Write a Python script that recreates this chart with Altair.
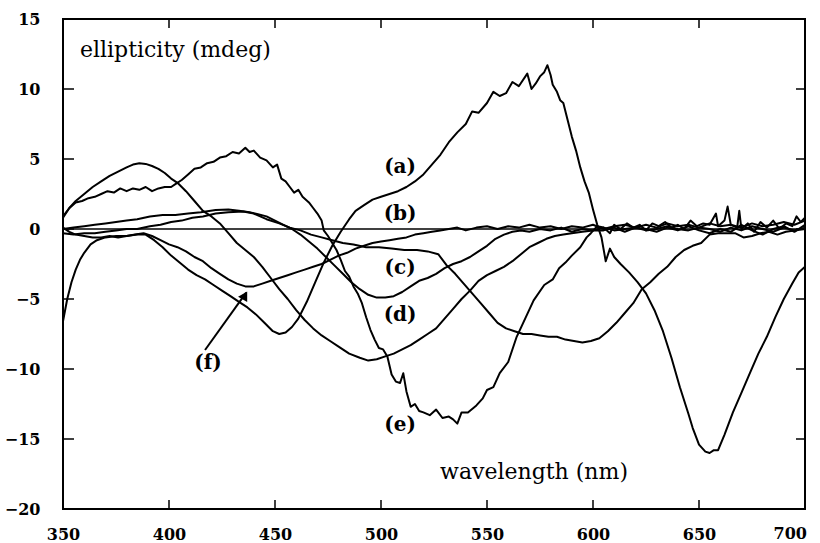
import altair as alt
import pandas as pd

# ---------------- data ----------------
a_wl = [350, 352, 354, 356, 358, 360, 363, 366, 370, 375, 380, 385, 389, 393, 397, 401, 405, 409, 413, 417,
        421, 425, 429, 433, 437, 441, 445, 449, 452, 455, 458, 461, 465, 469, 473, 477, 481, 485, 488, 492,
        496, 500, 504, 508, 512, 516, 520, 524, 528, 532, 536, 540, 543, 546, 550, 553, 556, 559, 562, 565,
        569, 571, 573, 575, 577, 578.5, 580, 581, 583, 584.5, 586, 588, 590, 592, 594, 596, 598, 600, 602, 604,
        606, 608, 610, 613, 617, 621, 625, 629, 633, 637, 641, 645, 647, 650, 653, 655, 657, 659, 662, 666,
        670, 674, 678, 682, 686, 690, 694, 697, 700]
a_val = [-6.6, -5.0, -3.8, -2.9, -2.2, -1.7, -1.1, -0.8, -0.6, -0.5, -0.5, -0.4, -0.4, -0.8, -1.3, -1.9, -2.4, -2.9, -3.3, -3.6,
         -4.0, -4.4, -4.8, -5.2, -5.6, -6.1, -6.7, -7.3, -7.5, -7.4, -7.0, -6.4, -5.2, -3.8, -2.4, -1.2, -0.2, 0.7, 1.3, 1.7,
         2.1, 2.3, 2.5, 2.7, 3.0, 3.4, 3.9, 4.6, 5.3, 6.2, 6.9, 7.5, 8.4, 8.3, 9.0, 9.8, 9.5, 9.7, 10.5, 10.2,
         11.1, 10.0, 10.4, 10.9, 11.2, 11.7, 11.0, 10.3, 9.8, 9.2, 9.0, 7.8, 6.6, 5.6, 4.4, 3.4, 2.6, 1.4, 0.3, -0.6,
         -2.3, -1.4, -2.0, -2.5, -3.1, -3.8, -4.6, -5.8, -7.3, -9.2, -11.3, -13.2, -14.2, -15.4, -15.9, -16.0, -15.8, -15.8, -14.7, -13.1,
         -11.7, -10.3, -8.9, -7.7, -6.3, -5.0, -3.9, -3.1, -2.7]

b_wl = [350, 355, 360, 365, 370, 375, 380, 385, 391, 396, 401, 406, 411, 416, 422, 428, 435, 440, 446, 452,
        457, 462, 467, 472, 477, 482, 487, 493, 499, 505, 511, 517, 522, 527, 531, 535, 539, 543, 547, 551,
        555, 559, 563, 567, 571, 575, 579, 583, 587, 591, 595, 599, 603, 607, 611, 615, 619, 623, 627, 631,
        635, 639, 643, 647, 651, 655, 659, 663, 667, 671, 675, 679, 683, 687, 691, 695, 700]
b_val = [-0.3, -0.4, -0.3, -0.3, -0.2, -0.1, 0.0, 0.0, 0.2, 0.3, 0.5, 0.6, 0.8, 0.9, 1.1, 1.2, 1.25, 1.1, 0.7, 0.4,
         0.1, -0.1, -0.4, -0.6, -0.8, -1.0, -1.1, -1.3, -1.3, -1.4, -1.5, -1.5, -1.6, -1.8, -2.6, -3.2, -3.9, -4.6, -5.3, -6.0,
         -6.7, -7.1, -7.3, -7.5, -7.5, -7.6, -7.7, -7.7, -7.9, -8.0, -8.1, -8.0, -7.8, -7.3, -6.7, -6.0, -5.3, -4.3, -3.8, -3.2,
         -2.7, -2.0, -1.5, -1.2, -1.0, -0.4, -0.3, -0.3, -0.3, -0.6, -0.5, -0.3, -0.2, -0.4, -0.2, -0.1, 0.1]

c_wl = [350, 355, 360, 365, 370, 375, 380, 385, 391, 397, 403, 409, 415, 422, 428, 433, 438, 442, 446, 450,
        454, 458, 462, 466, 470, 474, 478, 482, 486, 490, 494, 498, 502, 506, 510, 514, 518, 522, 526, 530,
        534, 538, 542, 546, 550, 554, 558, 562, 566, 570, 575, 580, 585, 590, 595, 600, 605, 610, 615, 620,
        625, 630, 635, 640, 645, 650, 655, 660, 665, 670, 675, 680, 685, 690, 695, 700]
c_val = [0.0, 0.1, 0.2, 0.3, 0.4, 0.5, 0.6, 0.7, 0.9, 1.0, 1.0, 1.1, 1.2, 1.35, 1.4, 1.3, 1.2, 1.05, 0.9, 0.6,
         0.3, 0.0, -0.4, -0.9, -1.4, -2.0, -2.6, -3.2, -3.8, -4.3, -4.7, -4.9, -4.9, -4.8, -4.5, -4.1, -3.7, -3.5, -3.2, -2.8,
         -2.5, -2.3, -2.0, -1.6, -1.2, -0.7, -0.4, -0.2, -0.1, -0.2, 0.0, -0.1, 0.1, -0.2, 0.0, -0.1, 0.1, -0.1, 0.0, 0.1,
         -0.1, 0.0, 0.2, 0.0, -0.1, 0.1, 0.0, -0.2, 0.1, -0.1, 0.2, 0.0, -0.2, 0.1, -0.1, 0.0]

d_wl = [350, 353, 356, 360, 364, 368, 372, 376, 380, 383, 386, 389, 392, 395, 398, 401, 404, 408, 412, 416,
        420, 424, 428, 432, 436, 440, 444, 448, 452, 456, 460, 464, 468, 472, 476, 480, 485, 490, 494, 498,
        502, 506, 510, 514, 518, 522, 526, 530, 534, 538, 542, 546, 550, 554, 558, 562, 566, 570, 574, 578,
        582, 586, 590, 595, 600, 605, 610, 615, 620, 625, 630, 635, 640, 645, 650, 655, 660, 665, 670, 675,
        680, 685, 690, 695, 700]
d_val = [0.9, 1.5, 2.0, 2.5, 3.0, 3.4, 3.8, 4.1, 4.4, 4.6, 4.7, 4.65, 4.5, 4.3, 4.0, 3.6, 3.3, 2.7, 2.0, 1.3,
         0.9, 0.4, -0.3, -1.0, -1.5, -2.0, -2.7, -3.5, -4.3, -5.0, -5.8, -6.5, -7.1, -7.6, -8.0, -8.4, -8.9, -9.2, -9.4, -9.3,
         -9.1, -8.9, -8.6, -8.3, -7.9, -7.5, -7.1, -6.4, -5.7, -5.0, -4.4, -3.7, -3.3, -3.0, -2.7, -2.3, -1.8, -1.3, -1.0, -0.7,
         -0.5, -0.4, -0.3, -0.2, -0.1, -0.1, 0.1, -0.2, 0.1, 0.0, -0.2, 0.1, -0.1, 0.2, -0.1, -0.3, 0.0, -0.2, 0.3, -0.1,
         -0.4, 0.0, 0.2, -0.2, 0.3]

e_wl = [350, 353, 356, 359, 362, 365, 368, 371, 374, 377, 380, 383, 386, 389, 392, 395, 398, 401, 403, 406,
        409, 412, 415, 418, 421, 424, 427, 430, 433, 436, 438, 440, 443, 446, 449, 451, 453, 455, 457, 459,
        461, 463, 466, 468, 470, 472, 473, 475, 477, 479, 481, 483, 485, 487, 489, 491, 493, 495, 497, 499,
        501, 503, 505, 507, 509, 510.5, 512, 514, 516, 518, 520, 523, 526, 529, 532, 534, 536, 538, 541, 545,
        548, 550, 553, 556, 560, 564, 568, 572, 577, 581, 584, 587, 590, 594, 597, 599, 602, 605, 608, 610,
        613, 616, 619, 622, 625, 628, 631, 634, 637, 640, 643, 646, 649, 652, 655, 658, 659, 662, 663.5, 665,
        668, 669, 670, 673, 676, 679, 682, 685, 688, 691, 694, 696, 698, 700]
e_val = [0.8, 1.5, 1.9, 2.0, 2.2, 2.3, 2.5, 2.7, 2.6, 2.9, 2.7, 2.9, 2.8, 3.0, 2.7, 2.9, 3.0, 3.0, 3.2, 3.5,
         3.9, 4.3, 4.4, 4.7, 4.8, 5.1, 5.2, 5.5, 5.4, 5.8, 5.5, 5.6, 5.1, 4.9, 4.4, 4.6, 3.6, 3.4, 3.0, 2.6,
         2.8, 2.3, 1.9, 1.5, 1.1, 0.6, -0.1, -0.5, -1.0, -1.5, -2.2, -3.0, -3.4, -4.1, -4.6, -5.3, -6.3, -7.2, -7.9, -8.5,
         -8.6, -9.1, -10.4, -10.9, -11.0, -10.3, -11.6, -12.7, -12.5, -13.0, -13.1, -13.3, -12.9, -13.5, -13.4, -13.6, -13.9, -13.1, -13.1, -12.6,
         -12.1, -11.5, -11.3, -10.3, -9.5, -7.7, -6.4, -5.1, -4.0, -3.6, -2.8, -2.4, -1.9, -1.3, -0.6, -0.3, 0.2, 0.1, -0.3, 0.3,
         0.0, 0.4, 0.1, 0.3, -0.1, 0.4, 0.2, 0.5, 0.1, 0.3, 0.0, 0.6, 0.2, 0.4, 0.3, 1.1, 0.2, 0.6, 1.6, 0.3,
         0.1, 1.3, 0.0, 0.4, -0.2, 0.5, 0.1, 0.6, 0.0, 0.4, 0.2, 0.9, 0.5, 0.8]

f_wl = [350, 353, 356, 360, 364, 368, 372, 376, 380, 384, 388, 392, 396, 400, 404, 408, 412, 416, 420, 424,
        428, 432, 436, 440, 444, 448, 452, 456, 460, 464, 468, 472, 476, 480, 484, 488, 492, 496, 500, 504,
        508, 512, 516, 520, 524, 528, 532, 536, 540, 545, 550, 555, 560, 565, 570, 575, 580, 585, 590, 595,
        600, 605, 610, 615, 620, 625, 630, 635, 640, 645, 650, 655, 660, 665, 670, 675, 680, 685, 690, 695, 700]
f_val = [0.1, -0.2, -0.4, -0.5, -0.6, -0.6, -0.5, -0.6, -0.5, -0.4, -0.3, -0.5, -0.8, -1.1, -1.3, -1.6, -2.0, -2.3, -2.8, -3.2,
         -3.6, -3.9, -4.1, -4.1, -3.9, -3.7, -3.5, -3.3, -3.1, -2.9, -2.7, -2.5, -2.2, -1.9, -1.7, -1.4, -1.2, -1.0, -0.9, -0.8,
         -0.7, -0.6, -0.4, -0.3, -0.2, -0.1, 0.0, 0.1, -0.1, 0.1, 0.2, 0.0, 0.2, 0.1, 0.3, 0.1, 0.2, 0.0, 0.2, 0.1,
         0.3, 0.0, 0.2, 0.3, 0.1, 0.3, 0.1, 0.4, 0.2, 0.3, 0.1, 0.4, 0.2, 0.3, 0.1, 0.4, 0.2, 0.3, 0.5, 0.3, 0.6]

x_tick_values = [350, 400, 450, 500, 550, 600, 650, 700]
y_tick_values = [-20, -15, -10, -5, 0, 5, 10, 15]

label_names = ["(a)", "(b)", "(c)", "(d)", "(e)", "(f)"]
label_wl = [509, 509, 509, 509, 509, 418.4]
label_val = [4.43, 1.1, -2.82, -6.14, -14.0, -9.57]

arrow_tail = [417.0, -8.64]
arrow_tip = [436.4, -4.55]
arrow_head = [435.8, -4.75]

y_title = "ellipticity (mdeg)"
y_title_pos = [358.0, 12.29]
x_title = "wavelength (nm)"
x_title_pos = [616.5, -17.86]

# ---------------- build tables ----------------
series = {"a": (a_wl, a_val), "b": (b_wl, b_val), "c": (c_wl, c_val),
          "d": (d_wl, d_val), "e": (e_wl, e_val), "f": (f_wl, f_val)}
rows = []
for name, (ws, vs) in series.items():
    for i, (w, v) in enumerate(zip(ws, vs)):
        rows.append({"curve": name, "wl": w, "val": v, "i": i})
df = pd.DataFrame(rows)

W, H = 742, 490
FONT = "DejaVu Serif"
xs = alt.Scale(domain=[350, 700], nice=False, zero=False)
ys = alt.Scale(domain=[-20, 15], nice=False, zero=False)

x_axis = alt.Axis(values=x_tick_values[:-1], title=None, grid=False, ticks=False,
                  domain=False, labelFlush=False, labelFont=FONT, labelFontWeight="bold",
                  labelFontSize=16, labelPadding=17, labelColor="black", format="d")
y_axis = alt.Axis(values=y_tick_values, title=None, grid=False, ticks=False,
                  domain=False, labelFont=FONT, labelFontWeight="bold",
                  labelFontSize=16, labelPadding=23, labelColor="black", format="d")


def X(field):
    return alt.X(field, scale=xs, axis=x_axis, title=None)


def Y(field):
    return alt.Y(field, scale=ys, axis=y_axis, title=None)


lines = alt.Chart(df).mark_line(color="black", strokeWidth=2.0, strokeJoin="round").encode(
    x=X("wl:Q"), y=Y("val:Q"), detail="curve:N", order="i:Q")

xt = pd.DataFrame({"t": x_tick_values[1:-1]})
yt = pd.DataFrame({"t": y_tick_values[1:-1]})
bottom_ticks = alt.Chart(xt).mark_rule(color="black", strokeWidth=1.5).encode(
    x=X("t:Q"), y=alt.value(H), y2=alt.value(H - 9))
top_ticks = alt.Chart(xt).mark_rule(color="black", strokeWidth=1.5).encode(
    x=X("t:Q"), y=alt.value(0), y2=alt.value(9))
left_ticks = alt.Chart(yt).mark_rule(color="black", strokeWidth=1.5).encode(
    y=Y("t:Q"), x=alt.value(0), x2=alt.value(11))
right_ticks = alt.Chart(yt).mark_rule(color="black", strokeWidth=1.5).encode(
    y=Y("t:Q"), x=alt.value(W), x2=alt.value(W - 9))

last_lab = alt.Chart(pd.DataFrame({"t": [x_tick_values[-1]], "lab": [str(x_tick_values[-1])]})).mark_text(
    align="right", baseline="top", dy=17, dx=2, font=FONT, fontWeight="bold", fontSize=16, color="black"
).encode(x=X("t:Q"), y=alt.value(H), text="lab:N")

zero_line = alt.Chart(pd.DataFrame({"z": [0]})).mark_rule(color="black", strokeWidth=1.6).encode(
    y=Y("z:Q"))

labels = alt.Chart(pd.DataFrame({"lab": label_names, "wl": label_wl, "val": label_val})).mark_text(
    font=FONT, fontWeight="bold", fontSize=20, color="black", baseline="middle", align="center"
).encode(x=X("wl:Q"), y=Y("val:Q"), text="lab:N")

arrow = alt.Chart(pd.DataFrame({"x": [arrow_tail[0]], "y": [arrow_tail[1]],
                                "x2": [arrow_tip[0]], "y2": [arrow_tip[1]]})).mark_rule(
    color="black", strokeWidth=2).encode(x=X("x:Q"), y=Y("y:Q"), x2="x2:Q", y2="y2:Q")
head = alt.Chart(pd.DataFrame({"x": [arrow_head[0]], "y": [arrow_head[1]]})).mark_point(
    shape="triangle-up", filled=True, color="black", opacity=1, size=110, angle=30).encode(
    x=X("x:Q"), y=Y("y:Q"))

ytitle = alt.Chart(pd.DataFrame({"lab": [y_title], "x": [y_title_pos[0]], "y": [y_title_pos[1]]})).mark_text(
    font=FONT, fontSize=22, color="black", align="left", baseline="alphabetic").encode(
    x=X("x:Q"), y=Y("y:Q"), text="lab:N")
xtitle = alt.Chart(pd.DataFrame({"lab": [x_title], "x": [x_title_pos[0]], "y": [x_title_pos[1]]})).mark_text(
    font=FONT, fontSize=22, color="black", align="right", baseline="alphabetic").encode(
    x=X("x:Q"), y=Y("y:Q"), text="lab:N")

chart = alt.layer(
    lines, zero_line, bottom_ticks, top_ticks, left_ticks, right_ticks, last_lab,
    labels, arrow, head, ytitle, xtitle
).properties(
    width=W, height=H,
    padding={"left": 63, "top": 19, "right": 15, "bottom": 34},
    autosize=alt.AutoSizeParams(type="none"),
    background="white",
).configure_view(stroke="black", strokeWidth=2)

chart.save("out.html", embed_options={"renderer": "svg", "actions": False})
